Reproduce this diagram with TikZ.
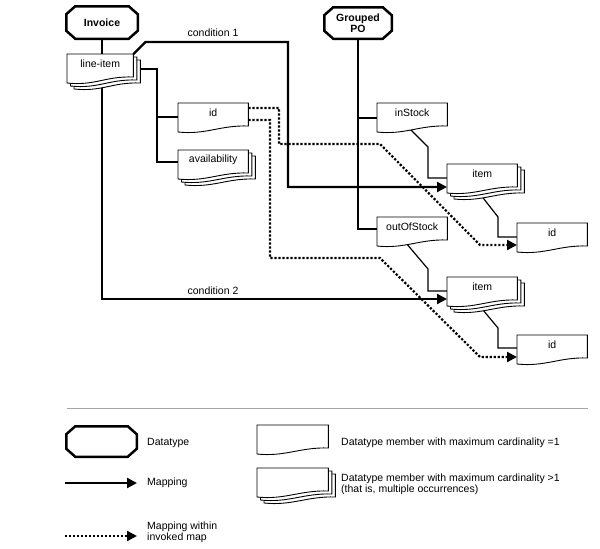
\documentclass[tikz,border=0pt]{standalone}
\usepackage{fontspec}
\setmainfont{Liberation Sans}
\usetikzlibrary{calc,arrows.meta}
\pgfdeclarelayer{edges}
\pgfdeclarelayer{docs}
\pgfsetlayers{edges,docs,main}
\newcommand\docat[3]{%
 \path[docline] ($(#1.north west)+(#2,#3)$) -- ($(#1.north east)+(#2,#3)$)
   -- ($(#1.north east)+(#2,#3+23)$)
   .. controls ($(#1.north east)+(#2-28,#3+22)$) and ($(#1.north west)+(#2+28,#3+32)$)
   .. ($(#1.north west)+(#2,#3+29)$) -- cycle;}
\newcommand\docsingle[1]{\docat{#1}{0}{0}}
\newcommand\docmulti[1]{\docat{#1}{7}{6}\docat{#1}{3.5}{3}\docat{#1}{0}{0}}
\newcommand\octa[1]{%
 \path[octline] ($(#1.north west)+(9,0)$) -- ($(#1.north east)+(-9,0)$)
   -- ($(#1.north east)+(0,8)$) -- ($(#1.south east)+(0,-8)$)
   -- ($(#1.south east)+(-9,0)$) -- ($(#1.south west)+(9,0)$)
   -- ($(#1.south west)+(0,-8)$) -- ($(#1.north west)+(0,8)$) -- cycle;}
\begin{document}
\begin{tikzpicture}[x=1pt,y=-1pt,
  font=\fontsize{10.5}{11}\selectfont,
  dtype/.style={rectangle, inner sep=0pt, outer sep=0pt,
    font=\fontsize{10.5}{11}\selectfont\bfseries, align=center},
  octline/.style={draw, line width=2.5pt, fill=white, line join=miter},
  doctext/.style={anchor=north west, minimum width=70pt, minimum height=20pt, inner sep=0pt},
  docline/.style={draw, line width=0.9pt, fill=white},
  conn/.style={line width=1.2pt},
  map/.style={line width=2.3pt, -{Triangle[length=10pt,width=10pt]}},
  dotmap/.style={line width=2.2pt, dash pattern=on 2.2pt off 1.8pt, -{Triangle[length=10pt,width=10pt]}},
  lbl/.style={inner sep=0pt},
  ]
\useasboundingbox (0,0) rectangle (600,549);
% datatypes
\node[dtype, minimum width=71.5pt, minimum height=32.5pt] (inv) at (102,22.5) {Invoice};
\node[dtype, minimum width=67.5pt, minimum height=31.5pt] (gpo) at (358,23) {Grouped\\PO};
% members
\node[doctext, minimum width=66pt] (li) at (67,54) {line-item};
\node[doctext] (idA) at (178,103) {id};
\node[doctext] (av) at (178,150) {availability};
\node[doctext] (ins) at (377,103) {inStock};
\node[doctext] (oos) at (377,217) {outOfStock};
\node[doctext] (it1) at (447,164) {item};
\node[doctext] (id1) at (517,223) {id};
\node[doctext] (it2) at (447,277) {item};
\node[doctext] (id2) at (517,335) {id};
\begin{pgfonlayer}{docs}
\octa{inv}
\octa{gpo}
\docmulti{li}
\docsingle{idA}
\docmulti{av}
\docsingle{ins}
\docsingle{oos}
\docmulti{it1}
\docsingle{id1}
\docmulti{it2}
\docsingle{id2}
\end{pgfonlayer}
% connectors
\begin{pgfonlayer}{edges}
\draw[conn] (inv.south) -- (inv.south |- li.north);
\coordinate (jA) at (157,69);
\draw[conn] ($(li.north east)+(-5,15)$) -- (jA) |- ($(av.north west)+(0,12)$);
\path ($(idA.north west)+(0,14)$) coordinate (idAl);
\draw[conn] (jA |- idAl) -- (idAl);
\draw[conn] (gpo.south) |- ($(oos.north west)+(0,12)$);
\path ($(ins.north west)+(0,15)$) coordinate (insl);
\draw[conn] (gpo.south |- insl) -- (insl);
\draw[conn] ($(ins.north west)+(21,14)$) -- ($(it1.north west)+(-19,-17)$) |- ($(it1.north west)+(0,14)$);
\draw[conn] ($(it1.north west)+(26,21)$) -- ($(id1.north west)+(-19,-6)$) |- ($(id1.north west)+(0,14)$);
\draw[conn] ($(oos.north west)+(18,13)$) -- ($(it2.north west)+(-19,-8)$) |- ($(it2.north west)+(0,14)$);
\draw[conn] ($(it2.north west)+(26,21)$) -- ($(id2.north west)+(-19,-7)$) |- ($(id2.north west)+(0,13)$);
% mappings
\coordinate (c1) at (288,42);
\draw[map] (li.north east) -- ++(12,-12) -- (c1) |- ($(it1.north west)+(0,23)$);
\draw[map] (inv.south |- li.center) |- ($(it2.north west)+(0,22)$);
\draw[dotmap] ($(idA.north east)+(0,5)$) -- (279,108) -- (279,144) -- (380,144)
   -- ($(id1.north west)+(-37,22)$) -- ($(id1.north west)+(0,22)$);
\draw[dotmap] ($(idA.north east)+(0,17)$) -- (270,120) -- (270,258) -- (380,258)
   -- ($(id2.north west)+(-37,22)$) -- ($(id2.north west)+(0,22)$);
\end{pgfonlayer}
\node[lbl] (cond1) at (213,33) {condition 1};
\node[lbl] (cond2) at (213,291) {condition 2};
% separator
\coordinate (sepL) at (67,408);
\coordinate (sepR) at (588,408);
\draw[black!35, line width=0.8pt] (sepL) -- (sepR);
% legend
\node[dtype, minimum width=70.5pt, minimum height=30.5pt] (lgdt) at (101.5,441.5) {};
\node[lbl, anchor=west] (lgdtt) at (147,443) {Datatype};
\coordinate (m1a) at (65,483);
\coordinate (m1b) at (137,483);
\draw[map] (m1a) -- (m1b);
\node[lbl, anchor=west] (lgmap) at (147,483) {Mapping};
\coordinate (m2a) at (65,536);
\coordinate (m2b) at (137,536);
\draw[dotmap] (m2a) -- (m2b);
\node[lbl, anchor=west, align=left] (lgdot) at (147,532) {Mapping within\\invoked map};
\node[doctext, minimum width=71pt] (lg1) at (257,425) {};
\node[doctext, minimum width=71pt] (lg2) at (257,468) {};
\begin{pgfonlayer}{docs}
\octa{lgdt}
\docsingle{lg1}
\docmulti{lg2}
\end{pgfonlayer}
\node[lbl, anchor=west] (lg1t) at (341,443) {Datatype member with maximum cardinality =1};
\node[lbl, anchor=west, align=left] (lg2t) at (341,484) {Datatype member with maximum cardinality >1\\(that is, multiple occurrences)};
\end{tikzpicture}
\end{document}
